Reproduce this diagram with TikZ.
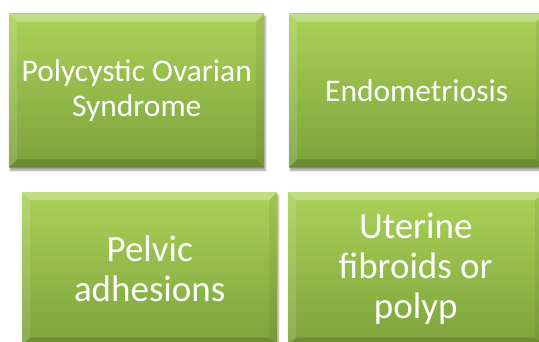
\documentclass[tikz,border=0pt]{standalone}
\usepackage{fontspec}
\setmainfont{Carlito}
\usetikzlibrary{shadows.blur}

\definecolor{greentop}{HTML}{AAD258}
\definecolor{greenbot}{HTML}{7CA23C}

\begin{document}
\begin{tikzpicture}[x=1pt, y=-1pt,
    cause/.style={rectangle, anchor=north west, inner sep=0pt,
        minimum width=255pt, minimum height=153.5pt, align=center,
        top color=greentop, bottom color=greenbot, text=white,
        blur shadow={shadow xshift=1pt, shadow yshift=-3pt, shadow opacity=40, shadow blur steps=6},
        path picture={
            \coordinate (bnw) at (path picture bounding box.north west);
            \coordinate (bne) at (path picture bounding box.north east);
            \coordinate (bsw) at (path picture bounding box.south west);
            \coordinate (bse) at (path picture bounding box.south east);
            \fill[white, opacity=0.28] (bnw) -- (bne) -- ([shift={(-8pt,-8pt)}]bne) -- ([shift={(8pt,-8pt)}]bnw) -- cycle;
            \fill[white, opacity=0.12] (bnw) -- ([shift={(8pt,-8pt)}]bnw) -- ([shift={(8pt,8pt)}]bsw) -- (bsw) -- cycle;
            \fill[black, opacity=0.06] (bne) -- ([shift={(-8pt,-8pt)}]bne) -- ([shift={(-8pt,8pt)}]bse) -- (bse) -- cycle;
            \fill[black, opacity=0.14] (bsw) -- ([shift={(8pt,8pt)}]bsw) -- ([shift={(-8pt,8pt)}]bse) -- (bse) -- cycle;
        }},
    small/.style={font=\fontsize{31.5}{35}\selectfont},
    big/.style={font=\fontsize{37}{40}\selectfont}
]
    \useasboundingbox (0,0) rectangle (539,342);
    % top row
    \node[cause, small] (pcos) at (9,13.5) {Polycystic Ovarian\\Syndrome};
    \node[cause, small] (endo) at (289,13.5) {Endometriosis};
    % bottom row
    \node[cause, big] (pelvic) at (22,192) {Pelvic\\adhesions};
    \node[cause, big] (fibroid) at (288,192) {Uterine\\fibroids or\\polyp};
\end{tikzpicture}
\end{document}
